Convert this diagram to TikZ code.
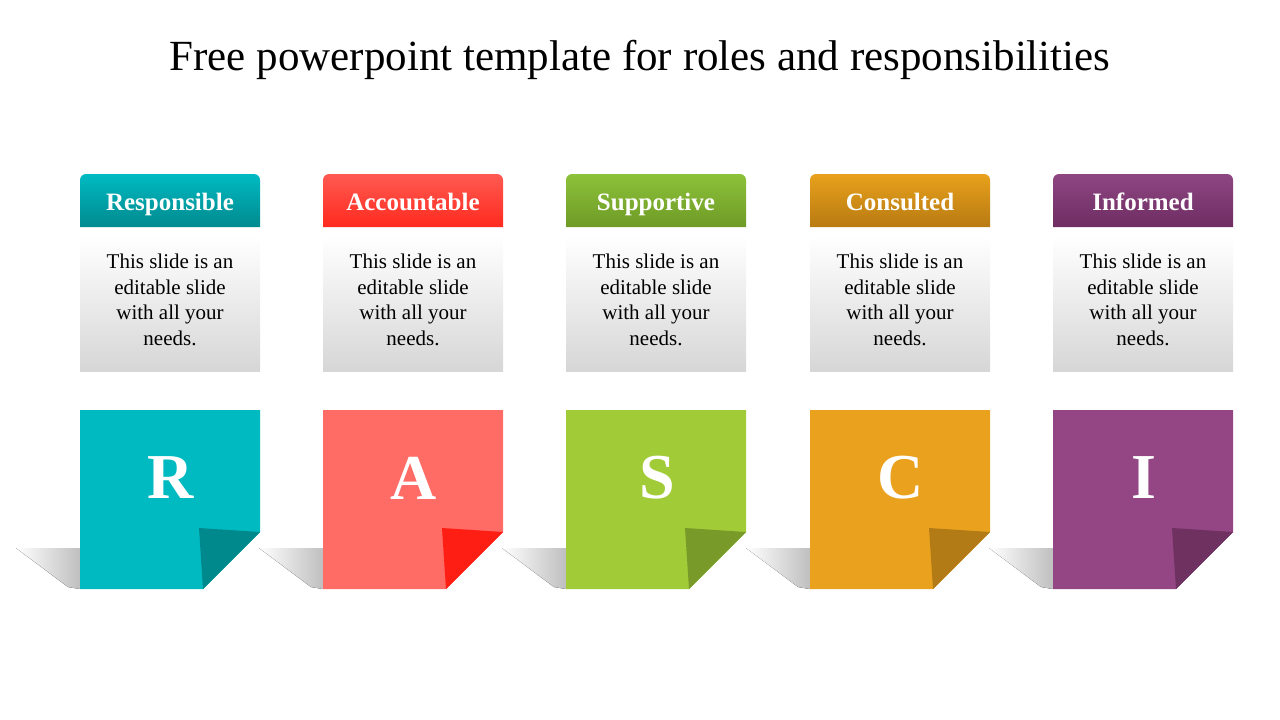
\documentclass[tikz,border=0pt]{standalone}
\usepackage{fontspec}
\setmainfont{Liberation Serif}
\usetikzlibrary{calc}
\definecolor{tA}{HTML}{00BAC2}\definecolor{tB}{HTML}{008A8E}\definecolor{tF}{HTML}{00898D}
\definecolor{rA}{HTML}{FF6B65}\definecolor{rH}{HTML}{FF5A52}\definecolor{rB}{HTML}{FF2A1E}\definecolor{rF}{HTML}{FF1E14}
\definecolor{gA}{HTML}{A2CB38}\definecolor{gH}{HTML}{8DC23A}\definecolor{gB}{HTML}{6E9A26}\definecolor{gF}{HTML}{789A29}
\definecolor{oA}{HTML}{EAA21E}\definecolor{oH}{HTML}{E8A11C}\definecolor{oB}{HTML}{B87A12}\definecolor{oF}{HTML}{B37B16}
\definecolor{pA}{HTML}{934683}\definecolor{pH}{HTML}{8E4682}\definecolor{pB}{HTML}{6E2D63}\definecolor{pF}{HTML}{6E3160}
\tikzset{
 headtxt/.style={text=white,anchor=base,font=\bfseries\fontsize{25}{28}\selectfont},
 bodytxt/.style={align=center,font=\fontsize{21}{25.5}\selectfont},
 lettxt/.style={text=white,font=\bfseries\fontsize{64}{68}\selectfont}
}
\begin{document}
\begin{tikzpicture}[x=1pt,y=-1pt]
\useasboundingbox (0,0) rectangle (1280,720);
\node[font=\fontsize{43}{48}\selectfont] (title) at (640,60) {Free powerpoint template for roles and responsibilities};
\foreach \x/\nm/\L/\cm/\ch/\cb/\cf/\id in {
 80/Responsible/R/tA/tA/tB/tF/r,
 323/Accountable/A/rA/rH/rB/rF/a,
 566/Supportive/S/gA/gH/gB/gF/s,
 810/Consulted/C/oA/oH/oB/oF/c,
 1053/Informed/I/pA/pH/pB/pF/i}{
 % shadow
 \fill[left color=white,right color=black!25] (\x-64,548) -- (\x,548) -- (\x,589) -- (\x-12,587) -- cycle;
 % header
 \path[top color=\ch,bottom color=\cb] (\x,227) [rounded corners=6] -- (\x,174) -- (\x+180,174) [sharp corners] -- (\x+180,227) -- cycle;
 \node[headtxt] (h\id) at (\x+90,210) {\nm};
 % body box
 \path[top color=white,bottom color=black!16] (\x,236) rectangle (\x+180,371);
 \node[bodytxt] (b\id) at (\x+90,300) {This slide is an\\editable slide\\with all your\\needs.};
 % note
 \fill[\cm] (\x,410) -- (\x+180,410) -- (\x+180,532) -- (\x+123,589) -- (\x,589) -- cycle;
 \fill[\cf] (\x+119,528) -- (\x+180,532) -- (\x+123,589) -- cycle;
 \node[lettxt] (l\id) at (\x+91,478) {\L};
}
\end{tikzpicture}
\end{document}
